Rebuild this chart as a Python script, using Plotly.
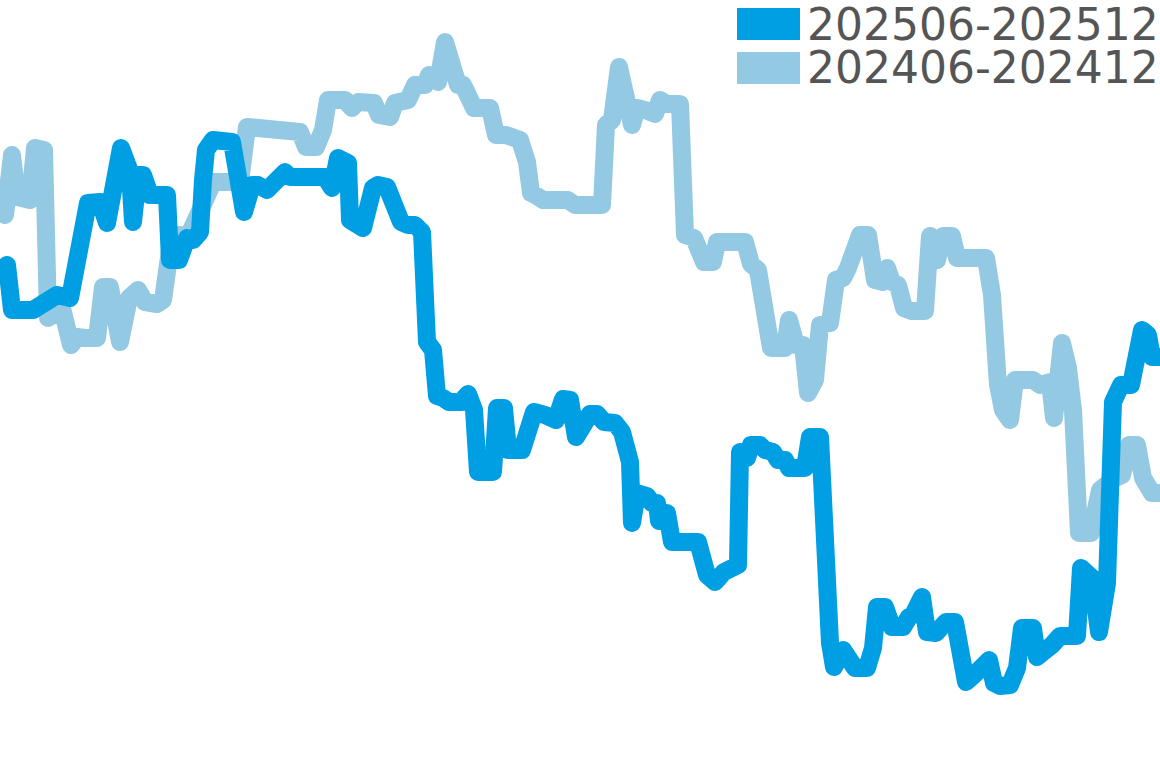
import plotly.graph_objects as go

# ---- data (x = time position, y = value) ----
t_2025 = [7, 12, 33, 40, 48, 57, 70, 80, 88, 100, 107, 121, 130, 133, 138, 143, 150, 167, 170, 179,
          187, 193, 200, 203, 206, 213, 222, 232, 244, 252, 258, 267, 285, 290, 325, 332, 338, 348, 350, 355,
          363, 373, 378, 387, 397, 401, 408, 415, 422, 427, 433, 437, 443, 449, 461, 468, 474, 478, 493, 497,
          504, 508, 522, 527, 534, 545, 556, 563, 570, 576, 587, 590, 597, 604, 615, 622, 630, 632, 637, 647,
          652, 657, 659, 667, 672, 698, 707, 715, 724, 730, 738, 740, 747, 751, 760, 765, 773, 778, 785, 789,
          805, 810, 820, 830, 834, 843, 855, 867, 873, 877, 885, 892, 903, 909, 913, 922, 927, 936, 946, 955,
          962, 966, 974, 982, 989, 994, 1000, 1010, 1017, 1022, 1033, 1037, 1045, 1052, 1060, 1077, 1081, 1092, 1099, 1107,
          1113, 1121, 1131, 1142, 1148, 1152, 1160]
v_2025 = [455, 410, 410, 414, 418, 425, 422, 475, 517, 518, 497, 572, 548, 498, 545, 545, 525, 525, 460, 460,
          482, 480, 488, 540, 570, 580, 580, 578, 508, 535, 535, 530, 548, 543, 543, 532, 562, 557, 500, 498,
          492, 532, 535, 533, 513, 498, 495, 495, 488, 378, 370, 324, 322, 318, 318, 326, 310, 248, 248, 312,
          312, 270, 270, 292, 308, 305, 300, 321, 320, 283, 298, 306, 306, 298, 297, 288, 258, 197, 227, 224,
          217, 217, 199, 207, 178, 178, 145, 138, 148, 153, 155, 268, 262, 275, 275, 270, 268, 260, 260, 252,
          252, 283, 283, 77, 53, 70, 52, 52, 72, 113, 113, 93, 93, 103, 105, 123, 88, 87, 98, 98,
          58, 38, 45, 52, 60, 37, 34, 35, 52, 92, 92, 63, 67, 75, 84, 84, 152, 142, 88, 137,
          318, 335, 335, 390, 385, 363, 363]

t_2024 = [5, 12, 17, 25, 30, 35, 44, 48, 54, 62, 71, 77, 85, 97, 103, 110, 120, 129, 138, 145,
          157, 163, 170, 180, 188, 197, 205, 213, 240, 247, 258, 265, 300, 306, 316, 323, 328, 345, 352, 358,
          374, 379, 390, 395, 408, 415, 425, 429, 433, 438, 445, 453, 458, 463, 468, 474, 490, 496, 506, 520,
          527, 531, 537, 543, 568, 575, 602, 606, 612, 619, 632, 637, 645, 655, 660, 667, 680, 685, 694, 704,
          713, 717, 745, 751, 758, 765, 771, 785, 789, 796, 803, 808, 815, 820, 830, 836, 843, 848, 853, 860,
          868, 875, 883, 887, 892, 898, 904, 912, 925, 930, 937, 943, 952, 957, 986, 992, 998, 1003, 1010, 1015,
          1033, 1040, 1050, 1054, 1062, 1068, 1073, 1079, 1091, 1100, 1115, 1122, 1129, 1137, 1143, 1152, 1160]
v_2024 = [505, 565, 523, 522, 520, 572, 570, 402, 408, 412, 375, 383, 382, 382, 433, 433, 378, 422, 430, 418,
          416, 420, 470, 485, 483, 508, 520, 538, 538, 593, 592, 588, 588, 573, 573, 590, 620, 620, 612, 618,
          617, 605, 603, 617, 620, 635, 635, 645, 638, 638, 678, 640, 635, 635, 620, 612, 612, 585, 585, 580,
          558, 527, 524, 520, 520, 515, 515, 595, 600, 653, 595, 612, 610, 606, 620, 616, 616, 485, 482, 458,
          458, 478, 478, 456, 450, 387, 372, 372, 400, 375, 375, 327, 340, 395, 397, 440, 442, 452, 472, 485,
          485, 440, 438, 452, 438, 435, 412, 409, 409, 484, 460, 484, 484, 462, 462, 425, 335, 310, 300, 340,
          340, 335, 338, 302, 377, 352, 310, 187, 187, 230, 242, 245, 275, 275, 242, 227, 227]

series_names = ["202506-202512", "202406-202412"]
series_colors = ["#009FE3", "#93C9E3"]

W, H = 1160, 768
LW = 18

fig = go.Figure()
fig.add_trace(go.Scatter(x=t_2024, y=v_2024, mode="lines", name=series_names[1],
                         line=dict(color=series_colors[1], width=LW), showlegend=False))
fig.add_trace(go.Scatter(x=t_2025, y=v_2025, mode="lines", name=series_names[0],
                         line=dict(color=series_colors[0], width=LW), showlegend=False))

# manual legend (large swatches)
def px_x(p):
    return p / W

def px_y(p):
    return 1 - p / H

shapes = []
annotations = []
for i, (nm, col) in enumerate(zip(series_names, series_colors)):
    top = 8 + i * 44
    shapes.append(dict(type="rect", xref="paper", yref="paper",
                       x0=px_x(737), x1=px_x(800), y0=px_y(top + 32), y1=px_y(top),
                       fillcolor=col, line=dict(width=0), layer="above"))
    annotations.append(dict(xref="paper", yref="paper", x=px_x(805), y=px_y(top + 16),
                            xanchor="left", yanchor="middle", text=nm, showarrow=False,
                            font=dict(family="DejaVu Sans", size=44, color="#555555")))

fig.update_layout(
    width=W, height=H,
    margin=dict(l=0, r=0, t=0, b=0),
    paper_bgcolor="white", plot_bgcolor="white",
    xaxis=dict(range=[0, 1160], visible=False, fixedrange=True),
    yaxis=dict(range=[-48, 720], visible=False, fixedrange=True),
    shapes=shapes, annotations=annotations,
    showlegend=False,
)

post = """
document.body.style.margin='0';
document.body.style.padding='0';
document.body.style.overflow='hidden';
document.documentElement.style.overflow='hidden';
document.querySelectorAll('.scatterlayer .js-line').forEach(function(p){
  p.style.strokeLinejoin='round'; p.style.strokeLinecap='round';
});
"""
fig.write_html("out.html", config={"displayModeBar": False}, post_script=post)
